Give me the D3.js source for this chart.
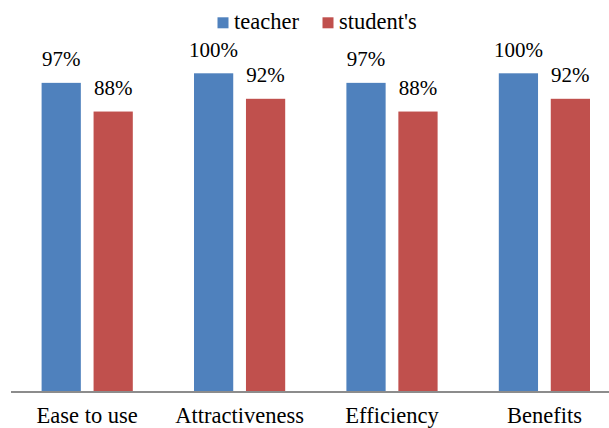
<!DOCTYPE html>
<html>
<head>
<meta charset="utf-8">
<script src="https://cdn.jsdelivr.net/npm/d3@7"></script>
</head>
<body style="margin:0; background:#ffffff">
<svg id="fig" width="609" height="428" style="display:block"></svg>
<script>
// Survey results: share of positive answers per criterion
const categories = ["Ease to use", "Attractiveness", "Efficiency", "Benefits"];
const seriesNames = ["teacher", "student's"];
const teacherValues = [97, 100, 97, 100];
const studentValues = [88, 92, 88, 92];
const seriesColors = ["#4F81BD", "#C0504D"];

const series = [teacherValues, studentValues];

const W = 609, H = 428;
const svg = d3.select("#fig");
const serif = "Liberation Serif";

const baseY = 392;
const bandStep = 152.4;
const x0 = d3.scaleBand()
  .domain(categories)
  .range([11, 11 + bandStep * categories.length])
  .paddingInner(0)
  .paddingOuter(0);

// inner scale places the two bars inside each category band
const x1 = d3.scaleBand()
  .domain(seriesNames)
  .range([30.6, 121.8])
  .paddingInner(0.245);

const y = d3.scaleLinear().domain([0, 100]).range([baseY, 73.3]);

const rows = categories.map((c, i) => ({
  cat: c,
  vals: series.map((s, k) => ({ name: seriesNames[k], value: s[i], color: seriesColors[k] }))
}));

const groups = svg.append("g").selectAll("g")
  .data(rows)
  .join("g")
  .attr("transform", d => `translate(${x0(d.cat)},0)`);

groups.selectAll("rect")
  .data(d => d.vals)
  .join("rect")
  .attr("x", d => x1(d.name))
  .attr("y", d => y(d.value))
  .attr("width", x1.bandwidth())
  .attr("height", d => baseY - y(d.value))
  .attr("fill", d => d.color);

groups.selectAll("text.val")
  .data(d => d.vals)
  .join("text")
  .attr("class", "val")
  .attr("x", d => x1(d.name) + x1.bandwidth() / 2)
  .attr("y", d => y(d.value) - 16.5)
  .attr("text-anchor", "middle")
  .attr("font-family", serif)
  .attr("font-size", 21)
  .attr("fill", "#000")
  .text(d => d.value + "%");

// category axis
const axis = d3.axisBottom(x0).tickSize(0).tickPadding(0);
const axisG = svg.append("g")
  .attr("transform", `translate(0,${baseY})`)
  .call(axis)
  .attr("font-family", serif)
  .attr("font-size", 22.5);
axisG.select(".domain")
  .attr("d", `M11,0H${W}`)
  .attr("stroke", "#8c8c8c")
  .attr("stroke-width", 2);
axisG.selectAll(".tick text")
  .attr("y", 30.5)
  .attr("dy", 0)
  .attr("font-family", serif)
  .attr("font-size", 22.5)
  .attr("fill", "#000");

// legend
const legendItems = [
  { name: seriesNames[0], color: seriesColors[0], sx: 217.5, tx: 234 },
  { name: seriesNames[1], color: seriesColors[1], sx: 322.5, tx: 339 }
];
const legend = svg.append("g").selectAll("g")
  .data(legendItems)
  .join("g");
legend.append("rect")
  .attr("x", d => d.sx)
  .attr("y", 17.3)
  .attr("width", 11)
  .attr("height", 11)
  .attr("fill", d => d.color);
legend.append("text")
  .attr("x", d => d.tx)
  .attr("y", 28.5)
  .attr("font-family", serif)
  .attr("font-size", 22.5)
  .attr("fill", "#000")
  .text(d => d.name);
</script>
</body>
</html>
